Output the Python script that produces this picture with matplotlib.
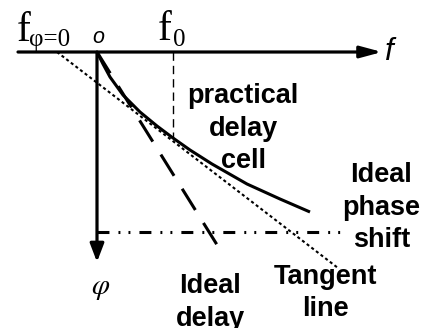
import matplotlib
matplotlib.use('Agg')
import matplotlib.pyplot as plt

plt.rcParams['lines.scale_dashes'] = False

# ---- data (diagram units: f to the right, phase lag downward, origin at f=0) ----
f_curve = [0, 6, 13, 26, 43, 60, 76, 93, 115, 150, 183, 213]
phi_curve = [0, 12, 25, 43, 60, 74, 86, 98, 112, 132, 147, 160]
f_tangent = [-40, 241]
phi_tangent = [0, 216]
f_delay = [0, 127]
phi_delay = [0, 204]
f_shift = [0, 248]
phi_shift = [180, 180]
f0 = 76
phi_f0 = 86
f_axis = [-79, 285]
phi_axis = [0, 210]

fig = plt.figure(figsize=(4.24, 3.28), dpi=100)
ax = fig.add_axes([0, 0, 1, 1])
ax.set_xlim(-97, 327)
ax.set_ylim(276, -52)
ax.axis('off')

K = 'black'
# axes with arrows
ax.annotate('', xy=(f_axis[1], 0), xytext=(f_axis[0], 0),
            arrowprops=dict(arrowstyle='-|>,head_length=1.3,head_width=0.35',
                            mutation_scale=10, lw=2.3, color=K,
                            shrinkA=0, shrinkB=0))
ax.annotate('', xy=(0, phi_axis[1]), xytext=(0, phi_axis[0]),
            arrowprops=dict(arrowstyle='-|>,head_length=1.1,head_width=0.42',
                            mutation_scale=10, lw=2.3, color=K,
                            shrinkA=0, shrinkB=0))

# practical delay cell
ax.plot(f_curve, phi_curve, color=K, lw=2.2, solid_capstyle='butt',
        solid_joinstyle='round')
# tangent line
ax.plot(f_tangent, phi_tangent, color=K, lw=1.5, linestyle=(0, (2.2, 2.0)))
# ideal delay
ax.plot(f_delay, phi_delay, color=K, lw=2.2, linestyle=(0, (18, 11)))
# ideal phase shift
ax.plot(f_shift, phi_shift, color=K, lw=2.2,
        linestyle=(0, (8.6, 6.5, 1.4, 5.8, 1.4, 6.5)))
# f0 marker
ax.plot([f0, f0], [0, phi_f0], color=K, lw=1.0, linestyle=(0, (6, 3.6)))

serif = 'Liberation Serif'
sans = 'Liberation Sans'
# top labels
ax.text(-80, -11, 'f', fontfamily=serif, fontsize=30, ha='left', va='baseline')
ax.text(-68, -6, 'φ=0', fontfamily=serif, fontsize=18, ha='left', va='baseline')
ax.text(1, -9, 'o', fontfamily=sans, style='italic', fontsize=15.5, ha='center', va='baseline')
ax.text(61, -12, 'f', fontfamily=serif, fontsize=30, ha='left', va='baseline')
ax.text(76, -6, '0', fontfamily=serif, fontsize=18, ha='left', va='baseline')
ax.text(288, 8, 'f', fontfamily=sans, style='italic', fontsize=22.5, ha='left', va='baseline')
ax.text(3, 235, 'φ', fontfamily='STIXGeneral', style='italic', fontsize=21, ha='center', va='center')

bold = dict(fontfamily=sans, fontweight='bold', fontsize=19.5, ha='center', va='baseline')
ax.text(146, 51, 'practical', **bold)
ax.text(146, 83.5, 'delay', **bold)
ax.text(146, 116, 'cell', **bold)
ax.text(284, 130.5, 'Ideal', **bold)
ax.text(284, 163, 'phase', **bold)
ax.text(285, 195, 'shift', **bold)
ax.text(113, 241, 'Ideal', **bold)
ax.text(113.5, 273.5, 'delay', **bold)
ax.text(229, 232, 'Tangent', **bold)
ax.text(228.5, 264, 'line', **bold)

fig.savefig('out.png', dpi=100)
